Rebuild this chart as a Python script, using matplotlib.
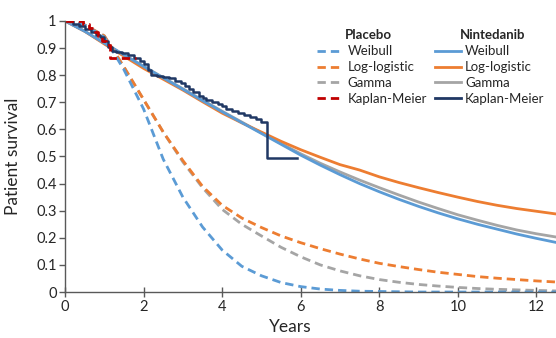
import matplotlib
matplotlib.use('Agg')
import matplotlib.pyplot as plt
from matplotlib.lines import Line2D

plt.rcParams['font.family'] = ['Lato', 'DejaVu Sans']

# fitted curves every half year
years = [0, 0.5, 1, 1.5, 2, 2.5, 3, 3.5, 4, 4.5, 5, 5.5, 6, 6.5, 7, 7.5, 8,
         8.5, 9, 9.5, 10, 10.5, 11, 11.5, 12, 12.5]

# Placebo (dashed)
pla_weibull = [1.0, 0.985, 0.94, 0.82, 0.675, 0.49, 0.35, 0.24, 0.155, 0.095, 0.06, 0.035, 0.02,
               0.011, 0.006, 0.003, 0.002, 0.001, 0.0, 0.0, 0.0, 0.0, 0.0, 0.0, 0.0, 0.0]
pla_loglog = [1.0, 0.985, 0.945, 0.83, 0.71, 0.59, 0.485, 0.39, 0.32, 0.273, 0.238, 0.207, 0.182,
              0.16, 0.14, 0.122, 0.106, 0.094, 0.083, 0.073, 0.065, 0.057, 0.051, 0.046, 0.041, 0.037]
pla_gamma = [1.0, 0.985, 0.945, 0.83, 0.71, 0.59, 0.48, 0.385, 0.305, 0.25, 0.207, 0.165, 0.13,
             0.10, 0.078, 0.06, 0.046, 0.036, 0.028, 0.022, 0.017, 0.013, 0.01, 0.008, 0.006, 0.004]

# Nintedanib (solid)
nin_weibull = [1.0, 0.962, 0.918, 0.875, 0.832, 0.79, 0.748, 0.706, 0.665, 0.625, 0.585, 0.545, 0.505,
               0.468, 0.433, 0.40, 0.37, 0.342, 0.316, 0.292, 0.27, 0.25, 0.232, 0.214, 0.198, 0.183]
nin_loglog = [1.0, 0.962, 0.915, 0.87, 0.825, 0.785, 0.745, 0.702, 0.66, 0.624, 0.59, 0.556, 0.525,
              0.497, 0.47, 0.45, 0.425, 0.404, 0.385, 0.367, 0.35, 0.334, 0.32, 0.308, 0.298, 0.288]
nin_gamma = [1.0, 0.962, 0.918, 0.875, 0.833, 0.791, 0.75, 0.708, 0.667, 0.627, 0.587, 0.548, 0.51,
             0.475, 0.443, 0.413, 0.385, 0.358, 0.332, 0.308, 0.285, 0.265, 0.246, 0.229, 0.215, 0.203]

# Kaplan-Meier steps
km_pla_t = [0, 0.45, 0.6, 0.75, 0.85, 0.95, 1.05, 1.15, 1.8]
km_pla_s = [1.0, 0.99, 0.975, 0.96, 0.945, 0.925, 0.91, 0.865, 0.865]

km_nin_t = [0, 0.2, 0.35, 0.5, 0.65, 0.8, 0.9, 1.0, 1.1, 1.2, 1.3, 1.45, 1.6, 1.75, 1.9, 2.0,
            2.1, 2.2, 2.35, 2.5, 2.65, 2.8, 2.95, 3.05, 3.15, 3.25, 3.4, 3.5, 3.6, 3.75, 3.9,
            4.0, 4.1, 4.25, 4.4, 4.55, 4.7, 4.85, 5.0, 5.13, 5.9]
km_nin_s = [1.0, 0.99, 0.98, 0.97, 0.96, 0.95, 0.94, 0.925, 0.905, 0.89, 0.885, 0.88, 0.875,
            0.865, 0.852, 0.84, 0.82, 0.80, 0.797, 0.793, 0.788, 0.778, 0.77, 0.76, 0.75, 0.738,
            0.725, 0.717, 0.71, 0.70, 0.695, 0.685, 0.675, 0.668, 0.66, 0.652, 0.645, 0.638, 0.628,
            0.496, 0.496]

blue = '#5B9BD5'
orange = '#ED7D31'
gray = '#A5A5A5'
red = '#C00000'
navy = '#203864'
dash = (0, (3, 1.8))

fig = plt.figure(figsize=(5.56, 3.38), dpi=100)
ax = fig.add_axes([0.117, 0.136, 0.883, 0.802])

ax.plot(years, nin_gamma, color=gray, lw=2)
ax.plot(years, nin_loglog, color=orange, lw=2)
ax.plot(years, nin_weibull, color=blue, lw=2)
ax.plot(years, pla_gamma, color=gray, lw=2, linestyle=dash)
ax.plot(years, pla_loglog, color=orange, lw=2, linestyle=dash)
ax.plot(years, pla_weibull, color=blue, lw=2, linestyle=dash)
ax.step(km_nin_t, km_nin_s, where='post', color=navy, lw=1.8)
ax.step(km_pla_t, km_pla_s, where='post', color=red, lw=2, linestyle=dash)

ax.set_xlim(0, 12.5)
ax.set_ylim(0, 1)
ax.set_xticks([0, 2, 4, 6, 8, 10, 12])
ax.set_yticks([0, 0.1, 0.2, 0.3, 0.4, 0.5, 0.6, 0.7, 0.8, 0.9, 1])
ax.set_yticklabels(['0', '0.1', '0.2', '0.3', '0.4', '0.5', '0.6', '0.7', '0.8', '0.9', '1'])
for s in ['top', 'right']:
    ax.spines[s].set_visible(False)
for s in ['left', 'bottom']:
    ax.spines[s].set_color('#595959')
    ax.spines[s].set_linewidth(1)
ax.tick_params(axis='x', direction='inout', length=7, width=1, color='#595959',
               labelsize=10.5, labelcolor='#262626', pad=2)
ax.tick_params(axis='y', direction='out', length=4, width=1, color='#595959',
               labelsize=10.5, labelcolor='#262626', pad=2)
ax.set_xlabel('Years', fontsize=12.5, color='#262626')
ax.set_ylabel('Patient survival', fontsize=12.5, color='#262626')
ax.xaxis.set_label_coords(0.458, -0.1)
ax.yaxis.set_label_coords(-0.09, 0.5)

# legend: two columns, bold group headers placed above them
handles = [Line2D([], [], color=blue, lw=2, linestyle=dash),
           Line2D([], [], color=orange, lw=2, linestyle=dash),
           Line2D([], [], color=gray, lw=2, linestyle=dash),
           Line2D([], [], color=red, lw=2, linestyle=dash),
           Line2D([], [], color=blue, lw=2),
           Line2D([], [], color=orange, lw=2),
           Line2D([], [], color=gray, lw=2),
           Line2D([], [], color=navy, lw=2)]
labels = ['Weibull', 'Log-logistic', 'Gamma', 'Kaplan-Meier',
          'Weibull', 'Log-logistic', 'Gamma', 'Kaplan-Meier']
leg = ax.legend(handles, labels, ncol=2, frameon=False, loc='upper right',
                bbox_to_anchor=(0.99, 0.935), borderpad=0, fontsize=9.5,
                handlelength=1.95, handletextpad=0.35, columnspacing=0.6,
                labelspacing=0.3)
for t in leg.get_texts():
    t.set_color('#262626')
ax.text(0.617, 0.947, 'Placebo', transform=ax.transAxes, ha='center', va='center',
        fontsize=9.5, fontweight='bold', color='#262626')
ax.text(0.870, 0.947, 'Nintedanib', transform=ax.transAxes, ha='center', va='center',
        fontsize=9.5, fontweight='bold', color='#262626')

fig.savefig('out.png', dpi=100)
